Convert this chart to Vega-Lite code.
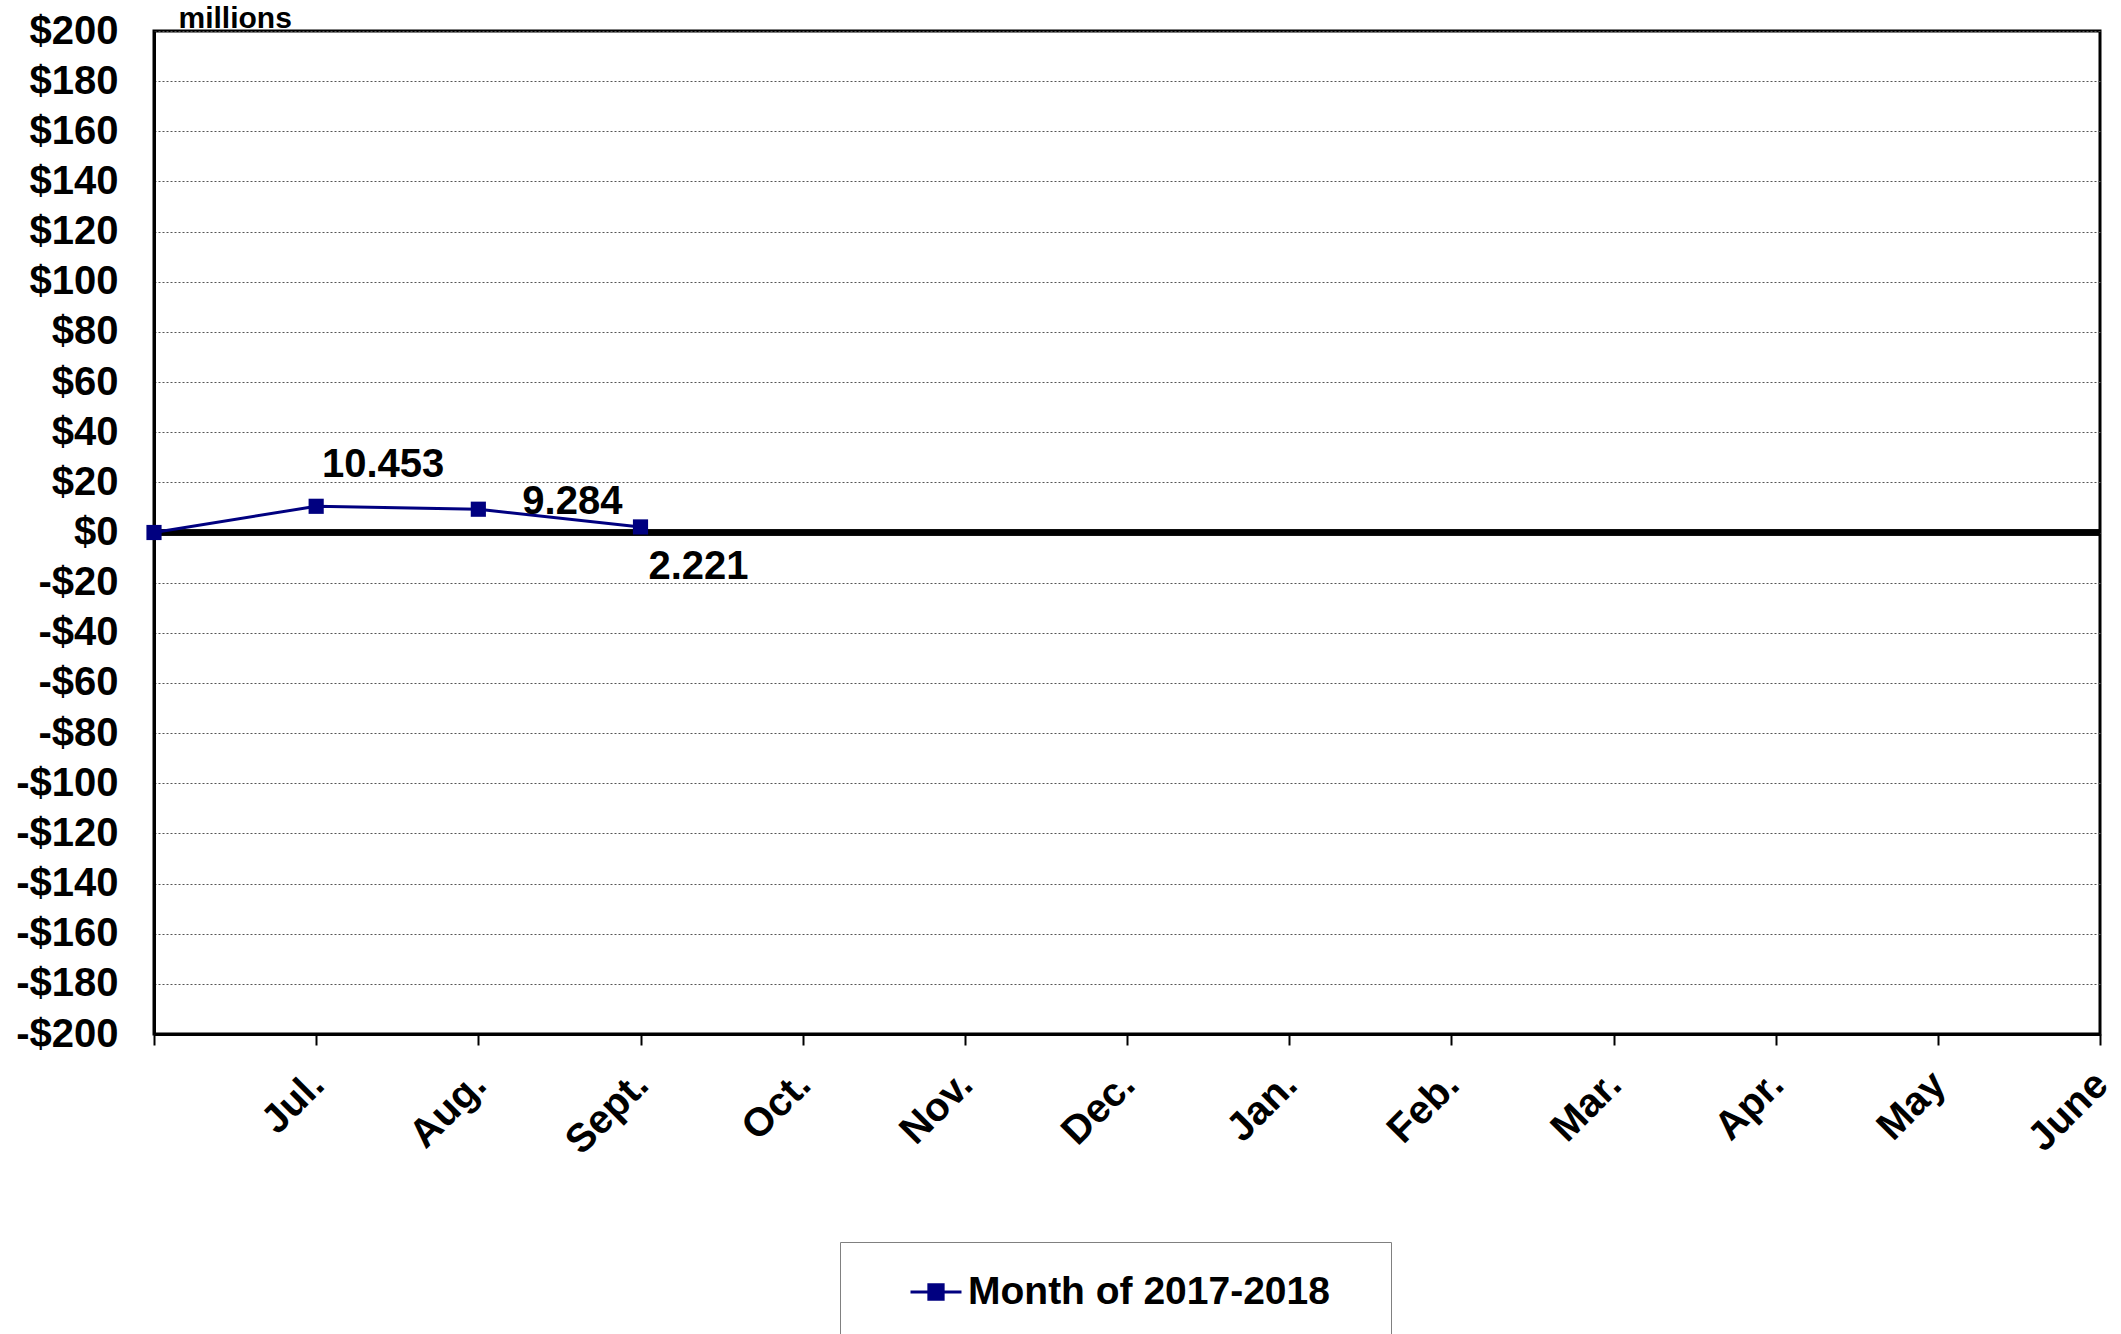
{
  "$schema": "https://vega.github.io/schema/vega-lite/v6.json",
  "width": 1946,
  "height": 1003,
  "autosize": {"type": "none"},
  "padding": {"left": 154, "top": 31, "right": 21, "bottom": 300},
  "background": "white",
  "config": {
    "font": "Liberation Sans",
    "view": {"stroke": "black", "strokeWidth": 3},
    "axis": {"labelFont": "Liberation Sans", "labelFontWeight": "bold", "labelColor": "black", "domainColor": "black", "tickColor": "black"}
  },
  "data": {
    "values": [
      {"month": "start", "value": 0, "series": "Month of 2017-2018", "label": ""},
      {"month": "Jul.", "value": 10.453, "series": "Month of 2017-2018", "label": "10.453"},
      {"month": "Aug.", "value": 9.284, "series": "Month of 2017-2018", "label": "9.284"},
      {"month": "Sept.", "value": 2.221, "series": "Month of 2017-2018", "label": "2.221"}
    ]
  },
  "layer": [
    {
      "mark": {"type": "rule", "color": "black", "strokeWidth": 6},
      "encoding": {
        "y": {"datum": 0, "type": "quantitative", "scale": {"domain": [-200, 200], "nice": false, "zero": false},
          "axis": {
            "values": [-200, -180, -160, -140, -120, -100, -80, -60, -40, -20, 0, 20, 40, 60, 80, 100, 120, 140, 160, 180, 200],
            "labelExpr": "datum.value < 0 ? '-$' + abs(datum.value) : '$' + datum.value",
            "labelFontSize": 40,
            "labelPadding": 36,
            "labelBaseline": "middle",
            "ticks": false,
            "domainWidth": 3,
            "grid": true,
            "gridColor": "#555555",
            "gridDash": [2, 2],
            "gridWidth": 1,
            "title": "millions",
            "titleAngle": 0,
            "titleAlign": "left",
            "titleBaseline": "alphabetic",
            "titleX": 24,
            "titleY": -4,
            "titleFontSize": 30,
            "titleFontWeight": "bold",
            "titleFont": "Liberation Sans",
            "titleColor": "black"
          }
        }
      }
    },
    {
      "mark": {"type": "line", "color": "#000080", "strokeWidth": 3, "point": {"shape": "square", "size": 230, "filled": true, "color": "#000080", "opacity": 1}},
      "encoding": {
        "x": {"field": "month", "type": "ordinal", "sort": null,
          "scale": {"type": "point", "padding": 0, "domain": ["start", "Jul.", "Aug.", "Sept.", "Oct.", "Nov.", "Dec.", "Jan.", "Feb.", "Mar.", "Apr.", "May", "June"]},
          "axis": {
            "labelExpr": "datum.label == 'start' ? '' : datum.label",
            "labelAngle": -45,
            "labelAlign": "right",
            "labelBaseline": "top",
            "labelFontSize": 40,
            "labelPadding": 19,
            "labelOffset": -13,
            "tickSize": 11,
            "tickWidth": 2,
            "domainWidth": 3,
            "grid": false,
            "title": null
          }
        },
        "y": {"field": "value", "type": "quantitative"},
        "color": {"field": "series", "type": "nominal", "scale": {"range": ["#000080"]},
          "legend": {
            "orient": "none",
            "legendX": 686,
            "legendY": 1211,
            "title": ".",
            "titleOrient": "right",
            "titleColor": "white",
            "titleFontSize": 3,
            "titlePadding": 37,
            "padding": 23,
            "strokeColor": "#808080",
            "fillColor": "white",
            "labelFont": "Liberation Sans",
            "labelFontSize": 39,
            "labelFontWeight": "bold",
            "labelColor": "black",
            "labelLimit": 800,
            "labelOffset": 5,
            "symbolType": "M-1,0H1M-0.28,-0.28H0.28V0.28H-0.28Z",
            "symbolSize": 2600,
            "symbolStrokeWidth": 3,
            "symbolFillColor": "#000080",
            "symbolStrokeColor": "#000080",
            "symbolOffset": 46
          }
        }
      }
    },
    {
      "transform": [{"filter": "datum.month == 'Jul.'"}],
      "mark": {"type": "text", "fontSize": 40, "fontWeight": "bold", "color": "black", "align": "center", "baseline": "middle", "dx": 67, "dy": -41},
      "encoding": {"x": {"field": "month", "type": "ordinal"}, "y": {"field": "value", "type": "quantitative"}, "text": {"field": "label"}}
    },
    {
      "transform": [{"filter": "datum.month == 'Aug.'"}],
      "mark": {"type": "text", "fontSize": 40, "fontWeight": "bold", "color": "black", "align": "center", "baseline": "middle", "dx": 94, "dy": -7},
      "encoding": {"x": {"field": "month", "type": "ordinal"}, "y": {"field": "value", "type": "quantitative"}, "text": {"field": "label"}}
    },
    {
      "transform": [{"filter": "datum.month == 'Sept.'"}],
      "mark": {"type": "text", "fontSize": 40, "fontWeight": "bold", "color": "black", "align": "center", "baseline": "middle", "dx": 58, "dy": 40},
      "encoding": {"x": {"field": "month", "type": "ordinal"}, "y": {"field": "value", "type": "quantitative"}, "text": {"field": "label"}}
    }
  ]
}
